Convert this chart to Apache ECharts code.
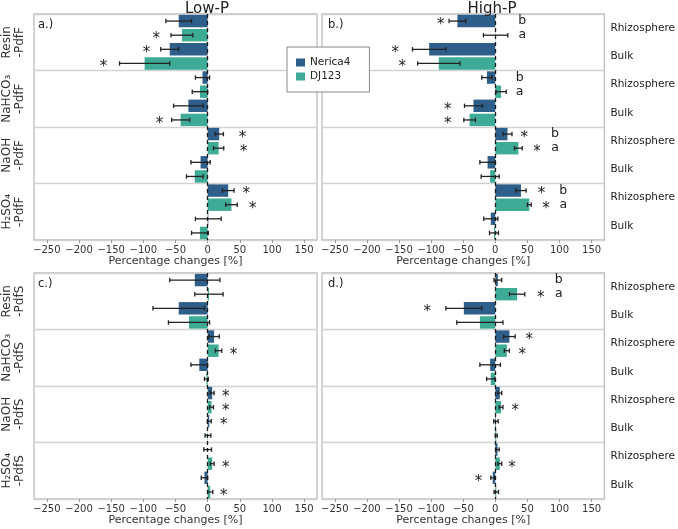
<!DOCTYPE html>
<html><head><meta charset="utf-8">
<script src="https://cdn.jsdelivr.net/npm/echarts@6/dist/echarts.min.js"></script>
<style>html,body{margin:0;padding:0;background:#fff}#c{width:678px;height:529px}</style>
</head><body><div id="c"></div>
<script>
// ---------- data ----------
const cultivars = ['Nerica4', 'DJ123'];
const fractions = ['Resin', 'NaHCO₃', 'NaOH', 'H₂SO₄'];
const zones = ['Rhizosphere', 'Bulk'];
const xTicks = [-250, -200, -150, -100, -50, 0, 50, 100, 150];
const panelTags = ['a.)', 'b.)', 'c.)', 'd.)'];
const columnTitles = ['Low-P', 'High-P'];
const poolSuffix = ['-PdfF', '-PdfF', '-PdfS', '-PdfS'];
const axisTitle = 'Percentage changes [%]';

// row order per fraction: Nerica4 rhizo, DJ123 rhizo, Nerica4 bulk, DJ123 bulk
const aValues = [-45, -40, -59, -98,  -8, -12, -30, -42,  18, 17, -11, -20,  32, 37, 1, -12];
const aErrors = [20, 17, 14, 39,  11, 12, 23, 14,  6.5, 8, 15, 13,  9, 9, 20, 13];
const aStars = [[-80, 1], [-95, 2], [-162, 3], [-75, 7], [54, 8], [56, 9], [60, 12], [70, 13]];
const aLetters = [];

const bValues = [-59, 0.5, -103, -88,  -13, 9, -34, -40,  19, 36, -12, -8,  40, 53, -7, -2];
const bErrors = [13, 19, 26, 33,  8, 8, 14, 9,  7, 6, 12, 14,  8, 3, 11, 7];
const bStars = [[-85, 0], [-156, 2], [-145, 3], [-74, 6], [-74, 7], [45, 8], [65, 9], [72, 12], [79, 13]];
const bLetters = [[42, 0, 'b'], [42, 1, 'a'], [38, 4, 'b'], [38, 5, 'a'], [93, 8, 'b'], [93, 9, 'a'], [106, 12, 'b'], [106, 13, 'a']];

const cValues = [-20, 2, -45, -29,  10, 17, -13, -2,  7, 6, 2.5, 0.5,  0, 7, -5, 4];
const cErrors = [39, 22, 40, 32,  8, 5, 13, 3,  3, 3, 3, 4.5,  6, 3, 5, 4];
const cStars = [[40, 5], [28, 8], [28, 9], [25, 10], [28, 13], [25, 15]];
const cLetters = [];

const dValues = [4, 34, -49, -24,  22, 18, -8, -7,  7, 9, 1, 1.5,  3.5, 7, -4, 1.5];
const dErrors = [6, 12, 28, 36,  9, 4, 16, 6.5,  3, 3, 3.5, 1.5,  2.5, 3, 3, 3.5];
const dStars = [[71, 1], [-106, 2], [53, 4], [42, 5], [31, 9], [26, 13], [-26, 14]];
const dLetters = [[99, 0, 'b'], [99, 1, 'a']];

// ---------- layout / style ----------
const colors = { Nerica4: '#2e5f8b', DJ123: '#3eab96' };
const FONT = 'DejaVu Sans';
const W = 285, H = 226;
const gridPos = [{ left: 32, top: 14 }, { left: 322, top: 14 }, { left: 32, top: 273 }, { left: 322, top: 273 }];
const panels = [
  { values: aValues, errors: aErrors, stars: aStars, letters: aLetters, leftLabels: true, rightLabels: false },
  { values: bValues, errors: bErrors, stars: bStars, letters: bLetters, leftLabels: false, rightLabels: true },
  { values: cValues, errors: cErrors, stars: cStars, letters: cLetters, leftLabels: true, rightLabels: false },
  { values: dValues, errors: dErrors, stars: dStars, letters: dLetters, leftLabels: false, rightLabels: true }
];

const rowCategories = [];
fractions.forEach(f => zones.forEach(z => cultivars.forEach(c => rowCategories.push(f + '|' + z + '|' + c))));
const zoneCategories = [];
fractions.forEach(f => zones.forEach(z => zoneCategories.push(z)));

const fmt = v => (v < 0 ? '\u2212' + Math.abs(v) : String(v));

const grid = [], xAxis = [], yAxis = [], series = [];

panels.forEach((p, gi) => {
  grid.push({ left: gridPos[gi].left, top: gridPos[gi].top, width: W, height: H, show: true,
    borderColor: '#bcbcbc', borderWidth: 1.3, backgroundColor: 'transparent' });
  xAxis.push({
    type: 'value', gridIndex: gi, min: -270, max: 170,
    axisLine: { show: false },
    axisTick: { show: true, customValues: xTicks, length: 3, lineStyle: { color: '#999' } },
    axisLabel: { customValues: xTicks, formatter: fmt, fontSize: 10, color: '#333', margin: 5, fontFamily: FONT },
    splitLine: { show: false },
    name: axisTitle, nameLocation: 'middle', nameGap: 12,
    nameTextStyle: { fontSize: 11, color: '#333', fontFamily: FONT }
  });
  const mainY = yAxis.length;
  yAxis.push({ type: 'category', gridIndex: gi, data: rowCategories, inverse: true, show: false });
  yAxis.push({
    type: 'category', gridIndex: gi, data: fractions, inverse: true, position: 'left',
    axisLine: { show: false }, axisTick: { show: false },
    splitLine: { show: true, interval: 0, lineStyle: { color: '#d2d2d2', width: 1.3 } },
    axisLabel: { show: p.leftLabels, interval: 0, rotate: 90, fontSize: 12, lineHeight: 13, margin: 8,
      color: '#333', fontFamily: FONT, formatter: v => v + '\n' + poolSuffix[gi] }
  });
  if (p.rightLabels) {
    yAxis.push({
      type: 'category', gridIndex: gi, data: zoneCategories, inverse: true, position: 'right',
      axisLine: { show: false }, axisTick: { show: false }, splitLine: { show: false },
      axisLabel: { interval: 0, fontSize: 10.5, margin: 6, color: '#222', fontFamily: FONT }
    });
  }
  cultivars.forEach((c, ci) => {
    series.push({
      name: c, type: 'bar', xAxisIndex: gi, yAxisIndex: mainY,
      data: p.values.map((v, i) => (i % 2 === ci ? v : '-')),
      barWidth: '88%', barGap: '-100%', z: 2,
      itemStyle: { color: colors[c] },
      markLine: ci === 1 ? {
        silent: true, symbol: 'none', label: { show: false }, z: 5,
        lineStyle: { color: '#1a1a1a', type: [4, 3], width: 1.3 },
        data: [{ xAxis: 0 }]
      } : undefined
    });
  });
  series.push({
    type: 'custom', xAxisIndex: gi, yAxisIndex: mainY, z: 4,
    data: p.values.map((v, i) => [v - p.errors[i], v + p.errors[i], i]),
    encode: { x: [0, 1], y: 2 },
    renderItem: (params, api) => {
      const y = api.value(2);
      const p1 = api.coord([api.value(0), y]);
      const p2 = api.coord([api.value(1), y]);
      const h = 2.2, st = { stroke: '#222', lineWidth: 1.3 };
      return { type: 'group', children: [
        { type: 'line', shape: { x1: p1[0], y1: p1[1], x2: p2[0], y2: p2[1] }, style: st },
        { type: 'line', shape: { x1: p1[0], y1: p1[1] - h, x2: p1[0], y2: p1[1] + h }, style: st },
        { type: 'line', shape: { x1: p2[0], y1: p2[1] - h, x2: p2[0], y2: p2[1] + h }, style: st }
      ] };
    }
  });
  const textSeries = (items, getText, size, dy) => ({
    type: 'custom', xAxisIndex: gi, yAxisIndex: mainY, z: 6,
    data: items.map(s => [s[0], s[1]]),
    encode: { x: 0, y: 1 },
    renderItem: (params, api) => {
      const pt = api.coord([api.value(0), api.value(1)]);
      return { type: 'text', x: pt[0], y: pt[1] + dy,
        style: { text: getText(params.dataIndex), fill: '#222', font: size + 'px ' + FONT,
          align: 'center', verticalAlign: 'middle' } };
    }
  });
  series.push(textSeries(p.stars, () => '*', 15, 4));
  if (p.letters.length) series.push(textSeries(p.letters, i => p.letters[i][2], 12.5, 0));
});

const graphic = [
  { type: 'text', x: 207, y: 17, z: 10, style: { text: columnTitles[0], font: '15px ' + FONT, fill: '#222', align: 'center', verticalAlign: 'bottom' } },
  { type: 'text', x: 492, y: 17, z: 10, style: { text: columnTitles[1], font: '15px ' + FONT, fill: '#222', align: 'center', verticalAlign: 'bottom' } }
];
panelTags.forEach((t, gi) => graphic.push({
  type: 'text', x: gridPos[gi].left + 6, y: gridPos[gi].top + 5, z: 10,
  style: { text: t, font: '11.5px ' + FONT, fill: '#222', align: 'left', verticalAlign: 'top' }
}));

const chart = echarts.init(document.getElementById('c'), null, { renderer: 'canvas' });
chart.setOption({
  animation: false,
  textStyle: { fontFamily: FONT },
  grid, xAxis, yAxis, series, graphic,
  legend: {
    data: cultivars, orient: 'vertical', left: 287, top: 47, z: 20,
    backgroundColor: '#fff', borderColor: '#888', borderWidth: 1,
    padding: [10, 19, 10, 9], itemGap: 3, itemWidth: 9, itemHeight: 8, icon: 'rect',
    textStyle: { fontSize: 10.5, lineHeight: 10, color: '#222', fontFamily: FONT }
  }
});
</script></body></html>
